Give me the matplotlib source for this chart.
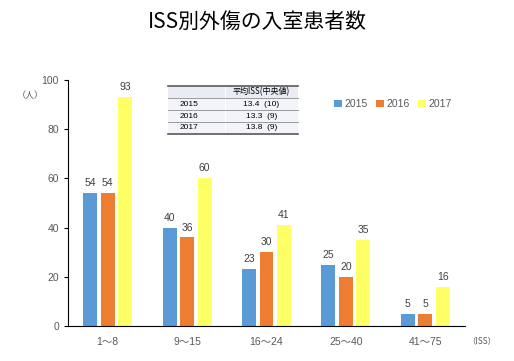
import matplotlib
matplotlib.use("Agg")
import matplotlib.pyplot as plt
import numpy as np
from matplotlib.lines import Line2D
from matplotlib.patches import Rectangle

plt.rcParams['font.family'] = ['Noto Sans CJK JP', 'DejaVu Sans']

categories = ["1～8", "9～15", "16～24", "25～40", "41～75"]
years = ["2015", "2016", "2017"]
v2015 = [54, 40, 23, 25, 5]
v2016 = [54, 36, 30, 20, 5]
v2017 = [93, 60, 41, 35, 16]
colors = ["#5B9BD5", "#ED7D31", "#FFFF66"]
table_header = ["", "平均ISS(中央値)"]
table_rows = [["2015", "13.4  (10)"], ["2016", "13.3  (9)"], ["2017", "13.8  (9)"]]

NUMFONT = ['Liberation Sans', 'DejaVu Sans']

fig = plt.figure(figsize=(5.14, 3.61), dpi=100)
ax = fig.add_axes([68/514, 35/361, 397/514, 246/361])

x = np.arange(len(categories))
w = 0.176
step = 0.22
series = [v2015, v2016, v2017]
for i, (vals, c, y) in enumerate(zip(series, colors, years)):
    bars = ax.bar(x + (i - 1) * step, vals, width=w, color=c, label=y)
    for b, v in zip(bars, vals):
        ax.text(b.get_x() + b.get_width()/2, v + 2, str(v), ha='center', va='bottom',
                fontsize=7.5, color='#404040', family=NUMFONT)

ax.set_xlim(-0.5, len(categories) - 0.5)
ax.set_ylim(0, 100)
ax.set_yticks([0, 20, 40, 60, 80, 100])
ax.set_xticks(x)
ax.set_xticklabels(categories)
ax.tick_params(axis='x', length=0, pad=8, labelsize=7.5, labelcolor='#595959')
ax.tick_params(axis='y', length=3, direction='out', labelsize=7.5, labelcolor='#595959')
for lab in ax.get_yticklabels():
    lab.set_family(NUMFONT)
for lab in ax.get_xticklabels():
    lab.set_family(['Liberation Sans', 'Noto Sans CJK JP'])
ax.spines['top'].set_visible(False)
ax.spines['right'].set_visible(False)

fig.text(0.5, 1 - 22/361, "ISS別外傷の入室患者数", ha='center', va='center', fontsize=15)
fig.text(30/514, 1 - 96/361, "（人）", ha='center', va='center', fontsize=6.5, color='#595959')
fig.text(482/514, 1 - 341/361, "（ISS）", ha='center', va='center', fontsize=6, color='#595959')

leg = ax.legend(loc='upper left', bbox_to_anchor=(325/514, 1 - 90/361), bbox_transform=fig.transFigure,
                ncol=3, frameon=False, fontsize=7.5, handlelength=0.7, handleheight=0.7,
                columnspacing=0.8, handletextpad=0.3, prop={'family': NUMFONT, 'size': 7.5})
for t in leg.get_texts():
    t.set_color('#595959')

# summary table
tx0, tx1, tx2 = 168, 225, 298
ty = [86, 98, 110, 122, 134]
def fx(px): return px / 514
def fy(py): return 1 - py / 361
fig.patches.append(Rectangle((fx(tx0), fy(ty[1])), fx(tx2) - fx(tx0), fy(ty[0]) - fy(ty[1]),
                             transform=fig.transFigure, facecolor='#E9EBF5', edgecolor='none'))
fig.patches.append(Rectangle((fx(tx0), fy(ty[4])), fx(tx2) - fx(tx0), fy(ty[1]) - fy(ty[4]),
                             transform=fig.transFigure, facecolor='#F3F4FA', edgecolor='none'))
fig.add_artist(Line2D([fx(tx1), fx(tx1)], [fy(ty[0]), fy(ty[4])], transform=fig.transFigure,
                      lw=0.8, color='white'))
for k, yy in enumerate(ty):
    lw = 1.2 if k in (0, 4) else 0.6
    col = '#595959' if k in (0, 4) else '#8C8C8C'
    fig.add_artist(Line2D([fx(tx0), fx(tx2)], [fy(yy), fy(yy)], transform=fig.transFigure, lw=lw, color=col))
fig.text(fx((tx1 + tx2) / 2), fy((ty[0] + ty[1]) / 2), table_header[1], ha='center', va='center', fontsize=5.8)
for r, row in enumerate(table_rows):
    yc = fy((ty[r + 1] + ty[r + 2]) / 2)
    fig.text(fx(tx0 + 12), yc, row[0], ha='left', va='center', fontsize=6, family=NUMFONT)
    fig.text(fx((tx1 + tx2) / 2), yc, row[1], ha='center', va='center', fontsize=6, family=NUMFONT)

fig.savefig("out.png", dpi=100)
